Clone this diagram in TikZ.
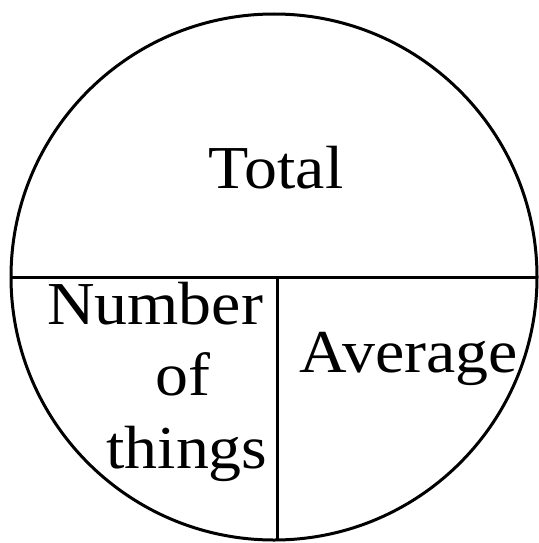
\documentclass[tikz,border=0pt]{standalone}
\usepackage{fontspec}
\setmainfont{Liberation Serif}[FakeStretch=1.08]
\begin{document}
\begin{tikzpicture}[x=1pt,y=-1pt,
  lbl/.style={inner sep=0pt, font=\fontsize{61}{61}\selectfont, anchor=base},
  stroke/.style={line width=3pt, black}]
\useasboundingbox (0,0) rectangle (538,543);
\fill[white] (0,0) rectangle (538,543);
\coordinate (c) at (274,277);
\coordinate (hl) at (11,277);
\coordinate (hr) at (537,277);
\coordinate (vt) at (277,277);
\coordinate (vb) at (277,540);
\draw[stroke] (c) circle[radius=263];
\draw[stroke] (hl) -- (hr);
\draw[stroke] (vt) -- (vb);
\node[lbl] (total) at (276,188) {Total};
\node[lbl] (number) at (155,324) {Number};
\node[lbl] (of) at (183,395) {of};
\node[lbl] (things) at (187,468) {things};
\node[lbl] (average) at (409,372) {Average};
\end{tikzpicture}
\end{document}
